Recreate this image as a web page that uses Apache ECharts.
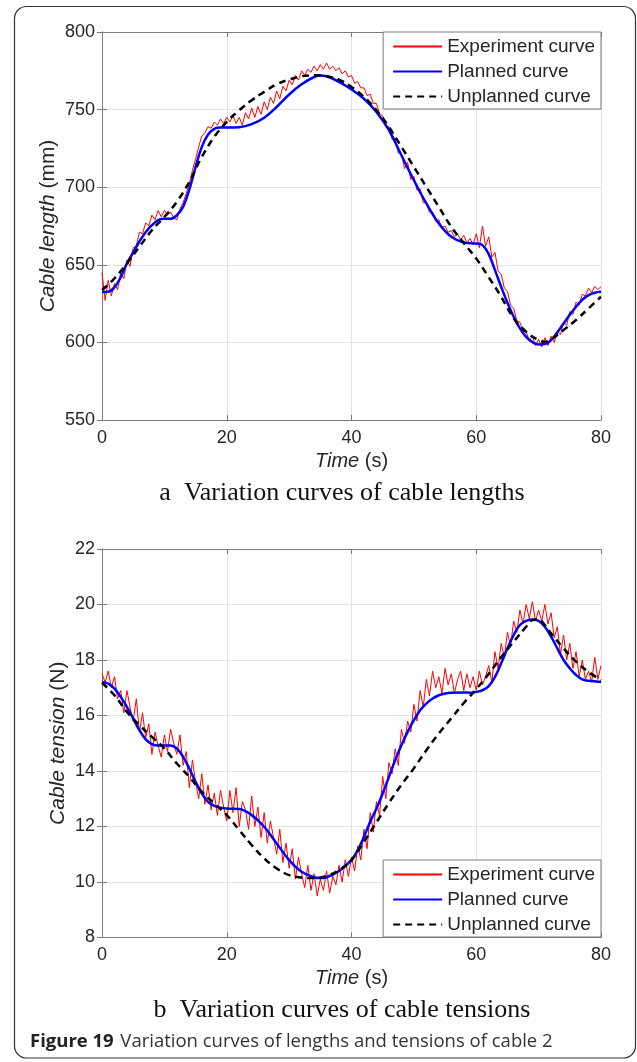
<!DOCTYPE html>
<html>
<head>
<meta charset="utf-8">
<script src="https://cdn.jsdelivr.net/npm/echarts@6/dist/echarts.min.js"></script>
<style>
html,body{margin:0;padding:0;background:#fff;}
#chart{width:637px;height:1062px;}
</style>
</head>
<body>
<div id="chart"></div>
<script>
// ---------- DATA ----------
const seriesNames = ['Experiment curve', 'Planned curve', 'Unplanned curve'];
const xTicks = [0, 20, 40, 60, 80];
const lengthTicks = [550, 600, 650, 700, 750, 800];
const tensionTicks = [8, 10, 12, 14, 16, 18, 20, 22];

// Experiment samples, every 0.5 s from 0 to 80 s
const expStep = 0.5;
const expLength = [
645,627,640,630,638,634,645,641,653,649,661,662,671,670,677,675,682,679,685,681,
685,682,684,680,679,686,690,696,702,711,718,726,733,735,739,738,742,740,744,741,
745,742,746,741,745,740,748,744,751,745,752,747,755,750,758,754,762,757,765,762,
769,766,772,769,775,772,776,774,778,775,779,776,780,776,778,775,777,773,775,771,
772,767,768,764,764,759,760,754,754,747,746,739,739,731,731,722,722,712,716,705,
707,698,699,690,690,684,684,678,679,674,675,671,672,668,670,666,669,664,667,663,
670,661,675,662,668,655,658,646,644,635,633,624,622,614,613,607,607,601,604,598,
602,597,603,598,604,600,607,605,613,611,620,618,626,624,631,630,635,632,636,634,
636
];
const expTension = [
17.5,17.2,17.6,17.0,17.4,16.6,16.9,16.1,16.9,16.3,15.8,16.6,15.4,16.1,15.2,15.7,14.6,15.4,14.9,14.5,
15.3,14.7,15.5,15.0,14.6,15.3,14.2,14.7,13.4,14.4,13.6,13.0,13.9,12.8,13.5,12.6,13.2,12.4,13.3,12.7,
12.2,13.3,12.5,13.4,12.0,12.9,12.6,11.9,13.1,12.0,12.7,11.6,12.5,11.4,12.2,11.6,11.0,11.9,10.7,11.4,
10.5,11.2,10.1,10.9,10.3,9.8,10.6,9.7,10.3,9.5,10.1,9.7,10.4,9.6,10.2,9.9,10.6,10.0,10.8,10.2,
10.9,10.4,11.3,10.8,11.9,11.2,12.5,11.8,12.9,12.4,13.8,13.0,14.3,13.9,14.8,14.2,15.5,15.0,15.8,15.4,
16.4,15.8,16.9,16.3,17.3,16.7,17.6,17.0,17.4,16.8,17.7,17.1,17.5,16.8,17.3,17.6,16.9,17.5,17.0,17.4,
16.9,17.6,17.1,17.4,17.8,17.2,18.3,17.7,18.6,18.1,19.0,18.5,19.4,19.0,19.8,19.3,20.0,19.5,20.1,19.4,
19.8,19.4,20.0,19.3,19.7,18.8,19.2,18.2,18.9,18.0,18.6,17.7,18.3,17.4,18.0,17.3,17.6,17.2,18.1,17.3,
17.8
];

// Planned / unplanned curves (time, value)
const plannedLenT = [0,1,2,3,4,5,6,7,8,9,10,11,12,13,14,15,16,17,18,19,20,22,24,26,28,30,32,34,35,36,38,40,42,44,46,48,50,52,54,56,58,60,61,62,63,64,65,66,67,68,69,70,71,72,73,74,75,76,77,78,79,80];
const plannedLenV = [632.4,632.6,635.5,642,651,658,665,671,675.5,678.8,679.6,679.6,682,687.3,698.5,713,726,734,737.6,738.4,738.4,738.6,740.6,744.8,751.7,759.7,766.3,771,771.9,771.5,767.8,763,757,748.5,736.7,720.6,704.5,689.5,676.6,668,664.4,663.7,662.7,656.9,646.6,635.8,625.5,616.5,609,603.6,600.2,598.7,598.9,601.5,606.5,612.2,617.8,623,627.5,630.5,632,632.6];
const unplannedLenT = [0,2,4,6,8,10,12,14,16,18,20,22,24,26,28,30,32,34,36,38,40,42,44,46,48,50,52,54,56,58,60,62,64,66,68,70,71,72,74,76,78,80];
const unplannedLenV = [633.7,641.2,650.9,661.6,672.3,680.9,690.6,703.4,719.5,732.4,742.1,749.6,756,761.4,766.3,769.3,771.5,772.1,771.5,769.3,764.6,758.2,749.6,738.8,726,713.1,700.2,687.3,674.5,664,654,642,629.4,615.5,606.9,601.5,600.4,602,608,614.4,621.9,629.4];

const plannedTenT = [0,1,2,3,4,5,6,7,8,9,10,11,12,13,14,15,16,17,18,19,20,22,24,26,28,30,32,34,35,36,38,40,41,42,43,44,45,46,47,48,49,50,51,52,53,54,55,56,58,59,60,61,62,63,64,65,66,67,68,69,70,71,72,73,74,75,76,77,78,80];
const plannedTenV = [17.21,17.15,16.97,16.67,16.31,15.89,15.47,15.14,14.97,14.92,14.92,14.92,14.81,14.51,14.09,13.61,13.19,12.89,12.74,12.68,12.65,12.63,12.41,11.99,11.39,10.79,10.37,10.17,10.14,10.17,10.4,10.8,11.15,11.63,12.17,12.65,13.19,13.79,14.39,14.93,15.41,15.83,16.19,16.43,16.61,16.73,16.79,16.82,16.83,16.82,16.85,16.91,17.06,17.39,17.88,18.42,18.9,19.26,19.41,19.46,19.41,19.2,18.84,18.42,18.0,17.7,17.46,17.3,17.25,17.21];
const unplannedTenT = [0,2,4,6,8,10,12,14,16,18,20,22,24,26,28,30,32,34,36,38,40,42,44,46,48,50,52,54,56,58,60,62,64,66,68,69,70,71,72,74,76,78,80];
const unplannedTenV = [17.18,16.73,16.13,15.65,15.23,14.81,14.27,13.79,13.25,12.83,12.41,11.87,11.33,10.85,10.49,10.25,10.16,10.14,10.22,10.43,10.79,11.45,12.15,12.85,13.5,14.1,14.75,15.35,15.9,16.45,16.95,17.5,18.1,18.66,19.2,19.44,19.46,19.26,18.96,18.42,17.94,17.57,17.27];

// ---------- BUILD ----------
const pairs = (t, v) => v.map((y, i) => [t[i], y]);
const expPairs = v => v.map((y, i) => [i * expStep, y]);

const TXT = '#262626';
const AX = '#7a7a7a';
const GRIDC = '#e3e3e3';
const SANS = 'Arial';

function axesFor(gi, yTicks, yName, yGap) {
  const ymin = yTicks[0], ymax = yTicks[yTicks.length - 1], yint = yTicks[1] - yTicks[0];
  const xmin = xTicks[0], xmax = xTicks[xTicks.length - 1], xint = xTicks[1] - xTicks[0];
  const xs = [
    { type: 'value', gridIndex: gi, position: 'bottom', min: xmin, max: xmax, interval: xint,
      axisLine: { show: true, lineStyle: { color: AX, width: 1 } },
      axisTick: { show: true, inside: true, length: 5, lineStyle: { color: AX } },
      axisLabel: { color: TXT, fontSize: 18, fontFamily: SANS, margin: 9 },
      splitLine: { show: true, lineStyle: { color: GRIDC, width: 1 } },
      name: '{i|Time} (s)', nameLocation: 'middle', nameGap: 31, nameMoveOverlap: false,
      nameTextStyle: { color: TXT, fontSize: 20, fontFamily: SANS,
        rich: { i: { fontStyle: 'italic', fontSize: 20, fontFamily: SANS, color: TXT } } } },
    { type: 'value', gridIndex: gi, position: 'top', min: xmin, max: xmax, interval: xint,
      axisLine: { show: true, lineStyle: { color: AX, width: 1 } },
      axisTick: { show: true, inside: true, length: 5, lineStyle: { color: AX } },
      axisLabel: { show: false }, splitLine: { show: false } }
  ];
  const ys = [
    { type: 'value', gridIndex: gi, position: 'left', min: ymin, max: ymax, interval: yint,
      axisLine: { show: true, lineStyle: { color: AX, width: 1 } },
      axisTick: { show: true, inside: true, length: 5, lineStyle: { color: AX } },
      axisLabel: { color: TXT, fontSize: 18, fontFamily: SANS, margin: 7 },
      splitLine: { show: true, lineStyle: { color: GRIDC, width: 1 } },
      name: yName, nameLocation: 'middle', nameGap: yGap, nameRotate: 90, nameMoveOverlap: false,
      nameTextStyle: { color: TXT, fontSize: 21, fontFamily: SANS,
        rich: { i: { fontStyle: 'italic', fontSize: 21, fontFamily: SANS, color: TXT } } } },
    { type: 'value', gridIndex: gi, position: 'right', min: ymin, max: ymax, interval: yint,
      axisLine: { show: true, lineStyle: { color: AX, width: 1 } },
      axisTick: { show: true, inside: true, length: 5, lineStyle: { color: AX } },
      axisLabel: { show: false }, splitLine: { show: false } }
  ];
  return { xs, ys };
}

const A = axesFor(0, lengthTicks, '{i|Cable length} (mm)', 43);
const B = axesFor(1, tensionTicks, '{i|Cable tension} (N)', 33);

function seriesFor(gi, expV, pT, pV, uT, uV) {
  const xi = gi * 2, yi = gi * 2;
  return [
    { type: 'line', name: seriesNames[0], xAxisIndex: xi, yAxisIndex: yi, data: expPairs(expV),
      symbol: 'none', lineStyle: { color: '#ff0000', width: 1 }, itemStyle: { color: '#ff0000' }, z: 2 },
    { type: 'line', name: seriesNames[1], xAxisIndex: xi, yAxisIndex: yi, data: pairs(pT, pV),
      smooth: 0.4, symbol: 'none', lineStyle: { color: '#0000ff', width: 2.5 }, itemStyle: { color: '#0000ff' }, z: 3 },
    { type: 'line', name: seriesNames[2], xAxisIndex: xi, yAxisIndex: yi, data: pairs(uT, uV),
      smooth: 0.4, symbol: 'none', lineStyle: { color: '#000000', width: 2.5, type: [7, 5] }, itemStyle: { color: '#000000' }, z: 4 }
  ];
}

function legendAt(top) {
  return {
    data: seriesNames, orient: 'vertical', right: 36, top: top,
    itemWidth: 49, itemHeight: 12, itemGap: 6,
    padding: [5, 6, 3, 9],
    borderColor: '#7a7a7a', borderWidth: 1, backgroundColor: '#ffffff',
    selectedMode: false,
    itemStyle: { opacity: 0 },
    textStyle: { color: TXT, fontSize: 19, fontFamily: SANS }
  };
}

const option = {
  animation: false,
  backgroundColor: '#ffffff',
  grid: [
    { left: 102, top: 32, width: 499, height: 388, outerBoundsMode: 'none', containLabel: false },
    { left: 102, top: 549, width: 499, height: 388.5, outerBoundsMode: 'none', containLabel: false }
  ],
  xAxis: [...A.xs, ...B.xs],
  yAxis: [...A.ys, ...B.ys],
  legend: [legendAt(32), legendAt(860)],
  series: [
    ...seriesFor(0, expLength, plannedLenT, plannedLenV, unplannedLenT, unplannedLenV),
    ...seriesFor(1, expTension, plannedTenT, plannedTenV, unplannedTenT, unplannedTenV)
  ],
  graphic: [
    { type: 'rect', shape: { x: 14.5, y: 6.5, width: 621, height: 1051.5, r: 12 },
      style: { fill: 'none', stroke: '#333333', lineWidth: 1.2 }, z: 0, silent: true },
    { type: 'text', x: 342, y: 493, style: { text: 'a  Variation curves of cable lengths',
      font: '26px "Liberation Serif", "Times New Roman", serif', fill: '#111111',
      textAlign: 'center', textVerticalAlign: 'middle' } },
    { type: 'text', x: 342, y: 1010, style: { text: 'b  Variation curves of cable tensions',
      font: '26px "Liberation Serif", "Times New Roman", serif', fill: '#111111',
      textAlign: 'center', textVerticalAlign: 'middle' } },
    { type: 'text', x: 30, y: 1042, style: {
      text: '{b|Figure 19}  {r|Variation curves of lengths and tensions of cable 2}',
      verticalAlign: 'middle', align: 'left',
      rich: {
        b: { fontFamily: '"Open Sans", sans-serif', fontWeight: 'bold', fontSize: 18.5, fill: '#222222' },
        r: { fontFamily: '"Open Sans", sans-serif', fontSize: 18.5, fill: '#333333' }
      } } }
  ]
};

const chart = echarts.init(document.getElementById('chart'), null, { renderer: 'canvas', width: 637, height: 1062 });
chart.setOption(option);
</script>
</body>
</html>
